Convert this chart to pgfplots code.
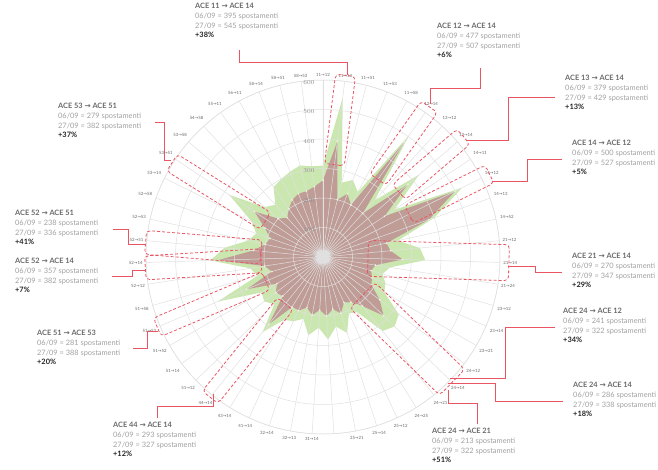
\documentclass[border=0pt]{standalone}
\usepackage{fontspec}
\setmainfont{Lato}
\newfontfamily\arr{DejaVu Sans}
\usepackage{pgfplots}
\pgfplotsset{compat=1.18}
\usepgfplotslibrary{polar}
\definecolor{gfill}{RGB}{203,231,176}
\definecolor{mfill}{RGB}{190,148,148}
\definecolor{redc}{RGB}{234,85,100}
\definecolor{tA}{RGB}{105,105,105}
\definecolor{tB}{RGB}{160,160,160}
\definecolor{tC}{RGB}{35,35,35}
\definecolor{dotc}{RGB}{245,240,225}
\newcommand\lab[2]{#1{\arr\char"2192}#2}
\newcommand\callout[7]{\node[anchor=north west,align=left,inner sep=0pt,font=\fontsize{7.4}{9.7}\selectfont] at (#1,-#2)
 {\textcolor{tA}{\textbf{ACE #3 {\arr\char"2192} ACE #4}}\\\textcolor{tB}{06/09 = #5 spostamenti}\\\textcolor{tB}{27/09 = #6 spostamenti}\\\textcolor{tC}{\textbf{+#7\%}}};}
\newcommand\redbox[4]{\begin{scope}[shift={(323,-257)},rotate=#1]
 \draw[redc,dash pattern=on 3pt off 2pt,line width=0.8pt,rounded corners=4pt] (#2,-#4) rectangle (#3,#4);\end{scope}}
\begin{document}
\begin{tikzpicture}[x=1pt,y=1pt]
\path[use as bounding box] (0,0) rectangle (658,-469);
\begin{polaraxis}[at={(323pt,-257pt)},anchor=center,scale only axis,
 width=354pt,height=354pt,xmin=90,xmax=450,ymin=0,ymax=600,
 ytick={100,200,300,400,500,600},
 xtick={90,442.94,435.88,428.82,421.76,414.71,407.65,400.59,393.53,386.47,379.41,372.35,365.29,358.24,351.18,344.12,337.06,330.00,322.94,315.88,308.82,301.76,294.71,287.65,280.59,273.53,266.47,259.41,252.35,245.29,238.24,231.18,224.12,217.06,210.00,202.94,195.88,188.82,181.76,174.71,167.65,160.59,153.53,146.47,139.41,132.35,125.29,118.24,111.18,104.12,97.06},
 xticklabels={\lab{11}{12},\lab{11}{14},\lab{11}{51},\lab{11}{53},\lab{11}{58},\lab{12}{14},\lab{13}{12},\lab{13}{14},\lab{14}{11},\lab{14}{12},\lab{14}{13},\lab{14}{52},\lab{21}{12},\lab{21}{14},\lab{21}{24},\lab{23}{12},\lab{23}{14},\lab{23}{21},\lab{24}{12},\lab{24}{14},\lab{24}{21},\lab{24}{25},\lab{25}{12},\lab{25}{14},\lab{25}{21},{},\lab{31}{14},\lab{32}{13},\lab{32}{14},\lab{41}{14},\lab{43}{14},\lab{44}{14},\lab{51}{12},\lab{51}{14},\lab{51}{52},\lab{51}{53},\lab{51}{58},\lab{52}{12},\lab{52}{14},\lab{52}{51},\lab{52}{53},\lab{52}{58},\lab{53}{14},\lab{53}{51},\lab{53}{58},\lab{54}{58},\lab{55}{11},\lab{56}{11},\lab{58}{14},\lab{58}{51},\lab{58}{53}},
 xticklabel style={font=\fontsize{4.3}{5}\selectfont,text=black!60},
 yticklabel style={font=\fontsize{6}{7}\selectfont,text=black!45,xshift=-5pt,yshift=-2.5pt},
 tick style={draw=none},
 grid=major, major grid style={black!12,line width=0.5pt},
 axis line style={black!12,line width=0.5pt},
 axis on top,
]
\addplot[draw=none,fill=gfill] coordinates {
(90,310) (442.94,545) (435.88,260) (428.82,280) (421.76,250) (414.71,507) (407.65,260) (400.59,429) (393.53,290) (386.47,527) (379.41,400) (372.35,260) (365.29,330) (358.24,347) (351.18,230) (344.12,210) (337.06,230) (330.00,240) (322.94,322) (315.88,338) (308.82,322) (301.76,220) (294.71,210) (287.65,270) (280.59,240) (273.53,280) (266.47,240) (259.41,270) (252.35,220) (245.29,240) (238.24,250) (231.18,327) (224.12,230) (217.06,250) (210.00,240) (202.94,388) (195.88,230) (188.82,250) (181.76,382) (174.71,336) (167.65,260) (160.59,240) (153.53,270) (146.47,382) (139.41,260) (132.35,240) (125.29,290) (118.24,300) (111.18,310) (104.12,320) (97.06,310) (90,310)};
\addplot[draw=none,fill=mfill,fill opacity=0.9] coordinates {
(90,260) (442.94,395) (435.88,200) (428.82,230) (421.76,200) (414.71,477) (407.65,200) (400.59,379) (393.53,250) (386.47,500) (379.41,380) (372.35,220) (365.29,230) (358.24,270) (351.18,180) (344.12,170) (337.06,180) (330.00,190) (322.94,241) (315.88,286) (308.82,213) (301.76,180) (294.71,170) (287.65,200) (280.59,180) (273.53,200) (266.47,180) (259.41,200) (252.35,180) (245.29,200) (238.24,200) (231.18,293) (224.12,190) (217.06,200) (210.00,180) (202.94,281) (195.88,180) (188.82,200) (181.76,357) (174.71,238) (167.65,200) (160.59,190) (153.53,220) (146.47,279) (139.41,200) (132.35,180) (125.29,200) (118.24,220) (111.18,230) (104.12,230) (97.06,240) (90,260)};
\addplot[only marks,mark=*,mark size=0.7pt,color=dotc,opacity=0.8] coordinates {
(90,260) (442.94,395) (435.88,200) (428.82,230) (421.76,200) (414.71,477) (407.65,200) (400.59,379) (393.53,250) (386.47,500) (379.41,380) (372.35,220) (365.29,230) (358.24,270) (351.18,180) (344.12,170) (337.06,180) (330.00,190) (322.94,241) (315.88,286) (308.82,213) (301.76,180) (294.71,170) (287.65,200) (280.59,180) (273.53,200) (266.47,180) (259.41,200) (252.35,180) (245.29,200) (238.24,200) (231.18,293) (224.12,190) (217.06,200) (210.00,180) (202.94,281) (195.88,180) (188.82,200) (181.76,357) (174.71,238) (167.65,200) (160.59,190) (153.53,220) (146.47,279) (139.41,200) (132.35,180) (125.29,200) (118.24,220) (111.18,230) (104.12,230) (97.06,240)};
\end{polaraxis}
% red dashed boxes
\redbox{82.94}{93}{183}{10}
\redbox{54.71}{95}{184}{10}
\redbox{40.59}{100}{185}{10}
\redbox{26.47}{96}{186}{10}
\redbox{-1.76}{45}{186}{18}
\redbox{-44.12}{55}{180}{18}
\redbox{231.18}{60}{180}{10}
\redbox{202.94}{62}{180}{10}
\redbox{183.5}{62}{178}{12}
\redbox{175.3}{62}{178}{12}
\redbox{148}{68}{178}{10}
% callout lines
\begin{scope}[redc,line width=0.7pt]
\draw (239,-50) -- (239,-62) -- (347,-62) -- (347,-75);
\draw (480,-68) -- (480,-88) -- (430,-88) -- (430,-104);
\draw (555,-97) -- (508,-97) -- (508,-140) -- (466,-140);
\draw (562,-159) -- (527,-159) -- (527,-181) -- (492,-181);
\draw (562,-272) -- (535,-272) -- (535,-266) -- (508,-266);
\draw (555,-327) -- (505,-327) -- (505,-378) -- (450,-378);
\draw (563,-401) -- (495,-401) -- (495,-383) -- (448,-383);
\draw (477,-424) -- (477,-403) -- (448,-403) -- (448,-390);
\draw (157,-418) -- (157,-406) -- (213,-406) -- (213,-394);
\draw (133,-348) -- (147,-348) -- (147,-331) -- (158,-331);
\draw (113,-229) -- (128,-229) -- (128,-244) -- (145,-244);
\draw (112,-276) -- (132,-276) -- (132,-270) -- (145,-270);
\draw (155,-122) -- (164,-122) -- (164,-160) -- (171,-160);
\end{scope}
% callouts
\callout{195}{3}{11}{14}{395}{545}{38}
\callout{437}{23}{12}{14}{477}{507}{6}
\callout{565}{75}{13}{14}{379}{429}{13}
\callout{572}{140}{14}{12}{500}{527}{5}
\callout{572}{253}{21}{14}{270}{347}{29}
\callout{563}{308}{24}{12}{241}{322}{34}
\callout{573}{382}{24}{14}{286}{338}{18}
\callout{432}{428}{24}{21}{213}{322}{51}
\callout{113}{422}{44}{14}{293}{327}{12}
\callout{37}{330}{51}{53}{281}{388}{20}
\callout{15}{210}{52}{51}{238}{336}{41}
\callout{15}{258}{52}{14}{357}{382}{7}
\callout{58}{103}{53}{51}{279}{382}{37}
\end{tikzpicture}
\end{document}
